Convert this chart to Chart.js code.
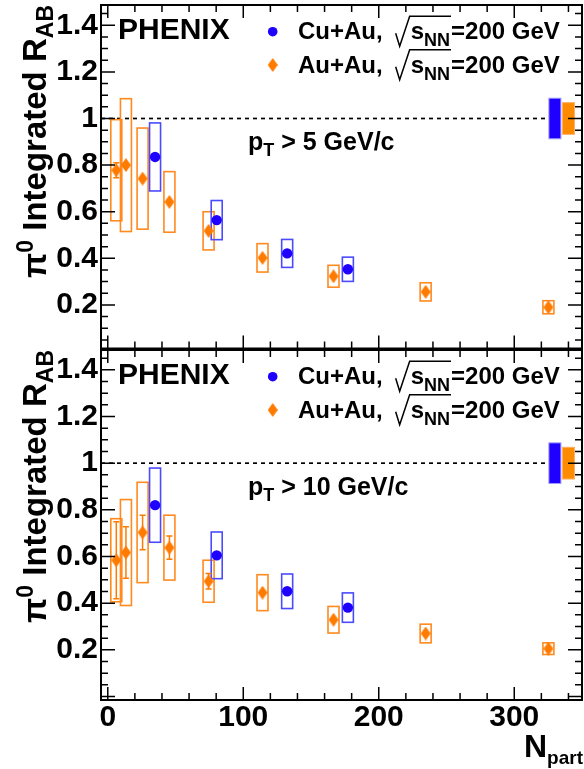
<!DOCTYPE html>
<html><head><meta charset="utf-8">
<script src="https://cdn.jsdelivr.net/npm/chart.js@4/dist/chart.umd.min.js"></script>
<style>
html,body{margin:0;padding:0;background:#fff;}
#wrap{position:relative;width:584px;height:769px;overflow:hidden;}
canvas{position:absolute;left:0;}
#c1{top:0;}
#c2{top:349px;}
</style></head><body>
<div id="wrap">
<canvas id="c1" width="584" height="350"></canvas>
<canvas id="c2" width="584" height="420"></canvas>
</div>
<script>
// ---------------- data ----------------
const nPartAuAu = [6.3, 13.4, 25.7, 45.5, 74.4, 114.2, 166.6, 234.6, 325.2];
const nPartCuAu = [34.9, 80.4, 132.4, 177.2];

// pT > 5 GeV/c
const raaAuAuPt5  = [0.778, 0.800, 0.742, 0.642, 0.518, 0.402, 0.323, 0.256, 0.190];
const statAuAuPt5 = [0.032, 0.020, 0.018, 0.015, 0.012, 0.010, 0.008, 0.007, 0.006];
const sysAuAuPt5  = [0.217, 0.285, 0.217, 0.130, 0.082, 0.061, 0.047, 0.039, 0.028];
const raaCuAuPt5  = [0.835, 0.564, 0.421, 0.353];
const statCuAuPt5 = [0.012, 0.008, 0.006, 0.005];
const sysCuAuPt5  = [0.146, 0.084, 0.060, 0.052];

// pT > 10 GeV/c
const raaAuAuPt10  = [0.584, 0.617, 0.703, 0.638, 0.494, 0.445, 0.329, 0.270, 0.205];
const statAuAuPt10 = [0.165, 0.110, 0.074, 0.050, 0.033, 0.020, 0.020, 0.018, 0.015];
const sysAuAuPt10  = [0.178, 0.227, 0.215, 0.139, 0.090, 0.077, 0.057, 0.040, 0.025];
const raaCuAuPt10  = [0.820, 0.605, 0.451, 0.381];
const statCuAuPt10 = [0.018, 0.015, 0.012, 0.010];
const sysCuAuPt10  = [0.159, 0.100, 0.074, 0.063];

// global (normalisation) uncertainties around R_AB = 1
const globalSysCuAu = 0.087;
const globalSysAuAu = 0.068;

// tick labels
const xTicks = [0, 100, 200, 300];
const xTickLabels = ['0', '100', '200', '300'];
const yTicks = [0.2, 0.4, 0.6, 0.8, 1.0, 1.2, 1.4];
const yTickLabels = ['0.2', '0.4', '0.6', '0.8', '1', '1.2', '1.4'];

// ---------------- style ----------------
const FONT = "'Liberation Sans', Arial, Helvetica, sans-serif";
const CU_COLOR = '#1f00ff';
const CU_BOX = '#4a4aff';
const AU_COLOR = '#ff7b00';
const AU_BOX = '#ff8a1f';
const GLOBAL_X_CU = 330, GLOBAL_X_AU = 340, GLOBAL_HALF_PX = 6;

const diamondImg = (() => {
  const c = document.createElement('canvas'); c.width = 10; c.height = 14;
  const g = c.getContext('2d'); g.fillStyle = AU_COLOR;
  g.beginPath(); g.moveTo(5, 0); g.lineTo(10, 7); g.lineTo(5, 14); g.lineTo(0, 7); g.closePath(); g.fill();
  return c;
})();

function seg(ctx, x, y, text, size, dy) {
  ctx.font = 'bold ' + size + 'px ' + FONT;
  ctx.fillText(text, x, y + (dy || 0));
  return x + ctx.measureText(text).width;
}
function segWidth(ctx, parts) {
  let w = 0;
  for (const p of parts) { ctx.font = 'bold ' + p[1] + 'px ' + FONT; w += ctx.measureText(p[0]).width; }
  return w;
}

function panelPlugin(cfg) {
  return {
    id: 'panel' + cfg.id,
    beforeDatasetsDraw(chart) {
      const {ctx, chartArea: a} = chart;
      const x = chart.scales.x, y = chart.scales.y;
      ctx.save();
      ctx.beginPath(); ctx.rect(a.left, a.top, a.right - a.left, a.bottom - a.top); ctx.clip();
      // dashed unity line
      const y1 = y.getPixelForValue(1);
      ctx.setLineDash([4, 4]); ctx.lineWidth = 1.7; ctx.strokeStyle = '#000';
      ctx.beginPath(); ctx.moveTo(a.left, y1); ctx.lineTo(x.getPixelForValue(GLOBAL_X_CU) - GLOBAL_HALF_PX, y1); ctx.stroke();
      ctx.setLineDash([]);
      // global boxes
      const gbox = (xc, s, fill, stroke) => {
        const px = x.getPixelForValue(xc), t = y.getPixelForValue(1 + s), b = y.getPixelForValue(1 - s);
        ctx.fillStyle = fill; ctx.fillRect(px - GLOBAL_HALF_PX, t, 2 * GLOBAL_HALF_PX, b - t);
        ctx.strokeStyle = stroke; ctx.lineWidth = 1; ctx.strokeRect(px - GLOBAL_HALF_PX, t, 2 * GLOBAL_HALF_PX, b - t);
      };
      gbox(GLOBAL_X_CU, globalSysCuAu, CU_COLOR, '#9a9aff');
      gbox(GLOBAL_X_AU, globalSysAuAu, '#ff8c00', '#ffb060');
      // systematic boxes
      const box = (n, v, s, color) => {
        const px = x.getPixelForValue(n), t = y.getPixelForValue(v + s), b = y.getPixelForValue(v - s);
        ctx.strokeStyle = color; ctx.lineWidth = 1.6; ctx.strokeRect(px - 5.5, t, 11, b - t);
      };
      nPartAuAu.forEach((n, i) => box(n, cfg.aa[i], cfg.aaSys[i], AU_BOX));
      nPartCuAu.forEach((n, i) => box(n, cfg.cu[i], cfg.cuSys[i], CU_BOX));
      // statistical error bars (drawn only when they reach outside the marker, like ROOT)
      const bar = (n, v, s, color, cap, half) => {
        const px = x.getPixelForValue(n), t = y.getPixelForValue(v + s), b = y.getPixelForValue(v - s);
        const c = y.getPixelForValue(v);
        if (c - t <= half) return;
        ctx.strokeStyle = color; ctx.lineWidth = 1.5; ctx.beginPath();
        ctx.moveTo(px, t); ctx.lineTo(px, b);
        if (cap) { ctx.moveTo(px - 3, t); ctx.lineTo(px + 3, t); ctx.moveTo(px - 3, b); ctx.lineTo(px + 3, b); }
        ctx.stroke();
      };
      nPartAuAu.forEach((n, i) => bar(n, cfg.aa[i], cfg.aaStat[i], AU_COLOR, true, 6));
      nPartCuAu.forEach((n, i) => bar(n, cfg.cu[i], cfg.cuStat[i], CU_COLOR, false, 5.2));
      ctx.restore();
    },
    afterDraw(chart) {
      const {ctx, chartArea: a} = chart;
      const x = chart.scales.x, y = chart.scales.y;
      ctx.save();
      // frame
      ctx.strokeStyle = '#000'; ctx.lineWidth = 2;
      ctx.strokeRect(a.left, a.top, a.right - a.left, a.bottom - a.top);
      // ticks (inside, all four sides)
      ctx.lineWidth = 1.5; ctx.beginPath();
      for (let k = Math.ceil(y.min / 0.05 - 1e-9); k * 0.05 <= y.max + 1e-9; k++) {
        const py = y.getPixelForValue(k * 0.05); const len = (k % 4 === 0) ? 14 : 7;
        ctx.moveTo(a.left, py); ctx.lineTo(a.left + len, py);
        ctx.moveTo(a.right, py); ctx.lineTo(a.right - len, py);
      }
      for (let k = Math.ceil(x.min / 20 - 1e-9); k * 20 <= x.max + 1e-9; k++) {
        const px = x.getPixelForValue(k * 20); const len = (k % 5 === 0) ? 13 : 7;
        ctx.moveTo(px, a.bottom); ctx.lineTo(px, a.bottom - len);
        ctx.moveTo(px, a.top); ctx.lineTo(px, a.top + len);
      }
      ctx.stroke();
      // texts
      ctx.fillStyle = '#000'; ctx.textAlign = 'left'; ctx.textBaseline = 'alphabetic';
      const T = a.top;
      seg(ctx, 118, T + 34.3, 'PHENIX', 30);
      // legend markers
      ctx.fillStyle = CU_COLOR; ctx.beginPath(); ctx.arc(272.7, T + 26.7, 4.8, 0, Math.PI * 2); ctx.fill();
      ctx.drawImage(diamondImg, 272.7 - 5, T + 60 - 7);
      ctx.fillStyle = '#000'; ctx.strokeStyle = '#000';
      const entry = (label, b) => {
        const xx = seg(ctx, 298, b, label, 24);
        const x0 = xx + 13;
        let xs = seg(ctx, x0 + 15, b, 's', 24);
        xs = seg(ctx, xs, b, 'NN', 18, 7);
        ctx.lineWidth = 1.5; ctx.beginPath();
        ctx.moveTo(x0, b - 6); ctx.lineTo(x0 + 4, b + 7); ctx.lineTo(x0 + 14, b - 23); ctx.lineTo(xs + 1, b - 23);
        ctx.stroke();
        seg(ctx, xs + 1, b, '=200 GeV', 24);
      };
      entry('Cu+Au,', T + 34.3);
      entry('Au+Au,', T + 67.7);
      // pT cut label
      let px = seg(ctx, 248, T + 145, 'p', 25);
      px = seg(ctx, px, T + 145, 'T', 18, 6);
      seg(ctx, px, T + 145, ' > ' + cfg.pt + ' GeV/c', 25);
      // y-axis title (rotated, right-aligned to the top of the frame)
      const ysegs = [['π', 33, 0], ['0', 23, -13], [' Integrated R', 33, 0], ['AB', 23, 7]];
      const tw = segWidth(ctx, ysegs);
      ctx.save(); ctx.translate(46, a.top); ctx.rotate(-Math.PI / 2);
      let tx = -tw;
      for (const s of ysegs) tx = seg(ctx, tx, 0, s[0], s[1], s[2]);
      ctx.restore();
      // x-axis title
      if (cfg.xTitle) {
        const xsegs = [['N', 32], ['part', 19]];
        const w = segWidth(ctx, xsegs);
        let xx = 583 - w;
        xx = seg(ctx, xx, a.bottom + 57, 'N', 32);
        seg(ctx, xx, a.bottom + 57, 'part', 19, 7);
      }
      ctx.restore();
    }
  };
}

function makePanel(id, cfg) {
  const aa = nPartAuAu.map((n, i) => ({x: n, y: cfg.aa[i]}));
  const cu = nPartCuAu.map((n, i) => ({x: n, y: cfg.cu[i]}));
  return new Chart(document.getElementById(id), {
    type: 'scatter',
    data: {datasets: [
      {label: 'Au+Au', data: aa, pointStyle: diamondImg, pointRadius: 7, backgroundColor: AU_COLOR, borderWidth: 0},
      {label: 'Cu+Au', data: cu, pointStyle: 'circle', pointRadius: 5.2, backgroundColor: CU_COLOR, borderColor: CU_COLOR, borderWidth: 0}
    ]},
    options: {
      responsive: false, animation: false, events: [],
      layout: {autoPadding: false, padding: {top: cfg.padTop, right: 2, bottom: cfg.padBottom, left: 0}},
      plugins: {legend: {display: false}, tooltip: {enabled: false}},
      scales: {
        x: {
          type: 'linear', min: -5, max: 350, display: cfg.xTitle,
          grid: {display: false, drawTicks: false}, border: {display: false},
          ticks: {
            stepSize: 100, includeBounds: false, autoSkip: false, maxRotation: 0, padding: 0,
            color: '#000', font: {family: FONT, size: 30, weight: 'bold'},
            callback: v => { const i = xTicks.indexOf(Math.round(v)); return i >= 0 ? xTickLabels[i] : ''; }
          },
          afterFit: s => { s.height = cfg.xTitle ? 69 : 0; s.paddingLeft = 0; s.paddingRight = 0; s.paddingTop = 0; s.paddingBottom = 0; }
        },
        y: {
          type: 'linear', min: cfg.yMin, max: cfg.yMax,
          grid: {display: false, drawTicks: false}, border: {display: false},
          ticks: {
            stepSize: 0.2, includeBounds: false, autoSkip: false, padding: 3,
            color: '#000', font: {family: FONT, size: 30, weight: 'bold'},
            callback: v => { const i = yTicks.findIndex(t => Math.abs(t - v) < 1e-6); return i >= 0 ? yTickLabels[i] : ''; }
          },
          afterFit: s => { s.width = 101; s.paddingTop = 0; s.paddingBottom = 0; s.paddingLeft = 0; s.paddingRight = 0; }
        }
      }
    },
    plugins: [panelPlugin(cfg)]
  });
}

makePanel('c1', {
  id: 1, pt: '5', xTitle: false, padTop: 5, padBottom: 1.5, yMin: 0.013, yMax: 1.487,
  aa: raaAuAuPt5, aaStat: statAuAuPt5, aaSys: sysAuAuPt5,
  cu: raaCuAuPt5, cuStat: statCuAuPt5, cuSys: sysCuAuPt5
});
makePanel('c2', {
  id: 2, pt: '10', xTitle: true, padTop: 1, padBottom: 0, yMin: -0.015, yMax: 1.485,
  aa: raaAuAuPt10, aaStat: statAuAuPt10, aaSys: sysAuAuPt10,
  cu: raaCuAuPt10, cuStat: statCuAuPt10, cuSys: sysCuAuPt10
});
</script>
</body></html>
